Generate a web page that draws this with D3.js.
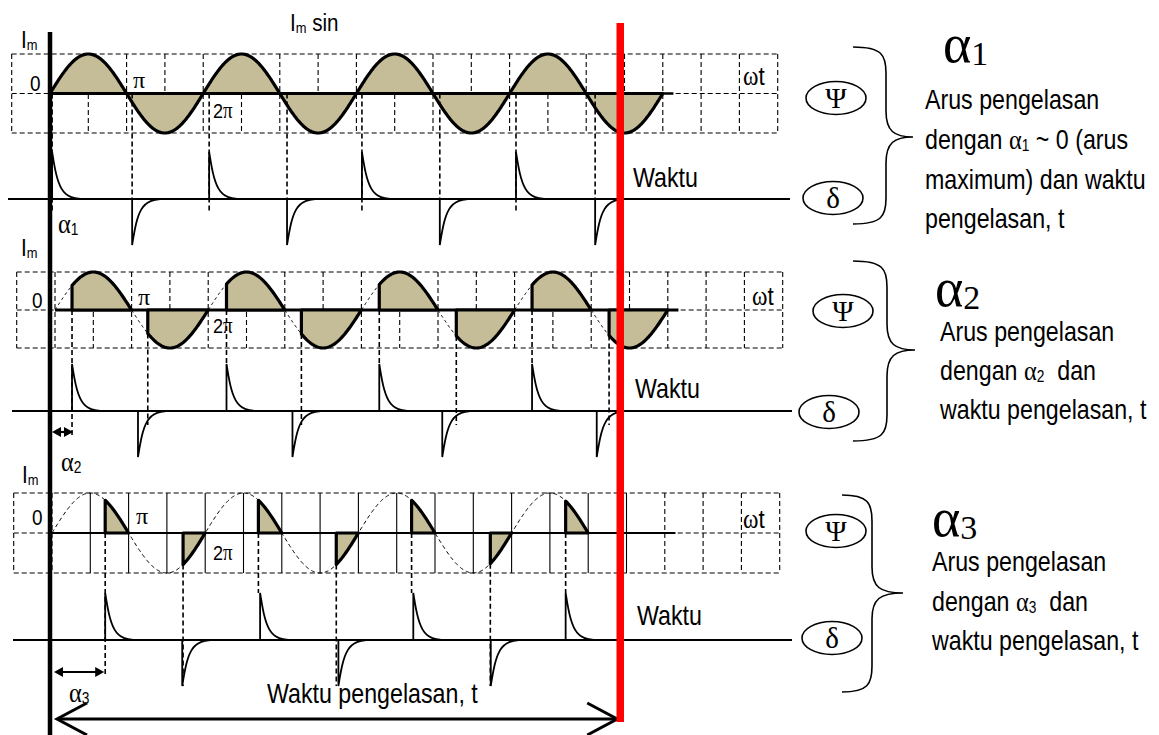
<!DOCTYPE html>
<html>
<head>
<meta charset="utf-8">
<script src="https://cdn.jsdelivr.net/npm/d3@7"></script>
<style>
body { margin: 0; background: #fff; }
text { font-family: "Liberation Sans", Arial, sans-serif; fill: #000; white-space: pre; }
.serif { font-family: "Liberation Serif", "Times New Roman", serif; }
</style>
</head>
<body>
<script>
const W = 1159, H = 735

// firing angle of each conducting half wave (degrees of wt)
const fireDeg1 = [0, 180, 360, 540, 720, 900, 1080, 1260]   // alpha1 ~ 0
const fireDeg2 = [40, 218, 403, 579, 762, 943, 1121, 1302]
const fireDeg3 = [125, 308, 485, 668, 845, 1030, 1207]
// trigger pulses (degrees of wt)
const posPulseDeg1 = [5, 374, 733, 1095]
const negPulseDeg1 = [193, 557, 916, 1281]
const posPulseDeg2 = [40, 403, 762, 1121]
const negPulseDeg2 = [195, 558, 910, 1273]
const posPulseDeg3 = [125, 489, 849, 1207]
const negPulseDeg3 = [306, 673, 1031]
// pulse decay: [deg after trigger, fraction of peak]
const pulseShape = [[0, 1], [4, 0.78], [9, 0.55], [15, 0.36], [22, 0.22], [32, 0.11], [45, 0.04], [66, 0]]
const gridStep = 90
const gridFrom = -90, gridTo = 1710
const weldEndDeg = 1340

const descLines = [
  [[['Arus pengelasan']], [['dengan '], ['α', 'sym'], ['1', 'sub'], [' ~ 0 (arus']], [['maximum) dan waktu']], [['pengelasan, t']]],
  [[['Arus pengelasan']], [['dengan '], ['α', 'sym'], ['2', 'sub'], ['  dan']], [['waktu pengelasan, t']]],
  [[['Arus pengelasan']], [['dengan '], ['α', 'sym'], ['3', 'sub'], ['  dan']], [['waktu pengelasan, t']]]
]
const alphaDigits = ['1', '2', '3']

const panels = [
  { fire: fireDeg1, pos: posPulseDeg1, neg: negPulseDeg1 },
  { fire: fireDeg2, pos: posPulseDeg2, neg: negPulseDeg2 },
  { fire: fireDeg3, pos: posPulseDeg3, neg: negPulseDeg3 }
]

const layout = [
  { x0: 50, top: 54, zero: 94, bot: 133, base: 199, zeroW: 2.5, wave: 'full', guide: 'pulse',
    zeroLbl: [30, 91], pi: [133, 88], pi2: [213, 118], wt: [743, 85], waktu: [633, 187], im: [21, 48],
    psi: [836, 98], delta: [833, 198], brace: [853, 886, 913, 47, 137, 224], big: [943, 62], textX: 925, lines: [109, 149, 189, 228],
    baseFrom: 8, baseTo: 790 },
  { x0: 55, top: 272, zero: 310, bot: 348, base: 411, zeroW: 3, wave: 'pre', guide: 'fire', firstEnd: 435,
    zeroLbl: [32, 308], pi: [138, 305], pi2: [213, 333], wt: [752, 305], waktu: [635, 398], im: [21, 256],
    psi: [843, 311], delta: [829, 412], brace: [853, 887, 915, 261, 350, 441], big: [935, 306], textX: 940, lines: [341, 380, 419],
    baseFrom: 12, baseTo: 792 },
  { x0: 52, top: 493, zero: 533, bot: 573, base: 640, zeroW: 2, wave: 'dashed', guide: 'fire', firstEnd: 677, solidCols: [90, 1350],
    zeroLbl: [32, 525], pi: [136, 524], pi2: [213, 560], wt: [743, 528], waktu: [637, 625], im: [22, 483],
    psi: [836, 531], delta: [832, 638], brace: [842, 872, 903, 495, 593, 692], big: [932, 536], textX: 932, lines: [571, 611, 650],
    baseFrom: 13, baseTo: 792 }
]

const pulseUp = 47, pulseDown = 46
const narrow = 0.86
const svg = d3.select('body').append('svg').attr('width', W).attr('height', H)

function sinePts(a, b) {
  const pts = []
  for (let d = a; d < b; d += 2) pts.push([d, Math.sin(d * Math.PI / 180)])
  pts.push([b, Math.sin(b * Math.PI / 180)])
  return pts
}

// narrow sans text (Arial Narrow look) with optional serif symbols and subscripts
function rich(x, y, segs, size, subSize) {
  const t = svg.append('text').attr('transform', `translate(${x},${y}) scale(${narrow},1)`).attr('font-size', size)
  let shift = 0
  segs.forEach(([s, k]) => {
    const sp = t.append('tspan').text(s)
    const want = k === 'sub' ? 2 : 0
    if (want !== shift) { sp.attr('dy', want - shift); shift = want }
    if (k === 'sub') sp.attr('font-size', subSize || size * 0.58)
    if (k === 'sym') sp.attr('class', 'serif').attr('font-size', size * 1.05)
  })
  return t
}

function brace(xl, xm, xt, y0, yt, y1) {
  const r = 26
  return `M${xl},${y0} C${xm - 4},${y0} ${xm},${y0 + 8} ${xm},${y0 + r}` +
    ` L${xm},${yt - r} C${xm},${yt - 6} ${xm + 8},${yt} ${xt},${yt}` +
    ` C${xm + 8},${yt} ${xm},${yt + 6} ${xm},${yt + r}` +
    ` L${xm},${y1 - r} C${xm},${y1 - 8} ${xm - 4},${y1} ${xl},${y1}`
}

function dblArrow(x1, x2, y) {
  const h = 8
  svg.append('line').attr('x1', x1 + h).attr('x2', x2 - h).attr('y1', y).attr('y2', y)
    .attr('stroke', '#000').attr('stroke-width', 2.2)
  svg.append('path').attr('d', `M${x1},${y}L${x1 + h + 1},${y - 5}L${x1 + h + 1},${y + 5}Z`).attr('fill', '#000')
  svg.append('path').attr('d', `M${x2},${y}L${x2 - h - 1},${y - 5}L${x2 - h - 1},${y + 5}Z`).attr('fill', '#000')
}

panels.forEach((p, i) => {
  const L = layout[i]
  const x = d3.scaleLinear().domain([0, 180]).range([L.x0, L.x0 + 76.6])
  const y = d3.scaleLinear().domain([-1, 1]).range([L.bot, L.top])
  const g = svg.append('g')

  // dashed grid
  const cols = d3.range(gridFrom, gridTo + 1, gridStep)
  g.selectAll('.col').data(cols).enter().append('line')
    .attr('x1', d => x(d)).attr('x2', d => x(d)).attr('y1', L.top).attr('y2', L.bot)
    .attr('stroke', '#000').attr('stroke-width', 1.1)
    .attr('stroke-dasharray', d => (L.solidCols && d >= L.solidCols[0] && d <= L.solidCols[1]) ? null : '5,3')
  g.selectAll('.row').data([1, 0, -1]).enter().append('line')
    .attr('x1', x(gridFrom)).attr('x2', x(gridTo)).attr('y1', d => y(d)).attr('y2', d => y(d))
    .attr('stroke', '#000').attr('stroke-width', 1.1).attr('stroke-dasharray', '5,3')

  const line = d3.line().x(d => x(d[0])).y(d => y(d[1]))

  // thin dashed sine where the current is not flowing
  if (L.wave === 'dashed') {
    g.append('path').attr('d', line(sinePts(0, p.fire.length * 180)))
      .attr('fill', 'none').attr('stroke', '#000').attr('stroke-width', 1).attr('stroke-dasharray', '4,3')
  }
  if (L.wave === 'pre') {
    p.fire.forEach((f, k) => {
      g.append('path').attr('d', line(sinePts(k * 180, f)))
        .attr('fill', 'none').attr('stroke', '#000').attr('stroke-width', 1).attr('stroke-dasharray', '3,3')
    })
  }

  // solid zero line
  g.append('line').attr('x1', x(0)).attr('x2', x(1465)).attr('y1', y(0)).attr('y2', y(0))
    .attr('stroke', '#000').attr('stroke-width', L.zeroW)

  // conducting parts of the wave
  p.fire.forEach((f, k) => {
    const end = (k + 1) * 180
    const pts = [[f, 0]].concat(sinePts(f, end)).concat([[end, 0]])
    g.append('path').attr('d', line(pts) + 'Z')
      .attr('fill', '#c4bd98').attr('stroke', '#000').attr('stroke-width', 3.2)
      .attr('stroke-linejoin', 'round')
  })

  // guides from the wave to the pulses
  const guides = []
  if (L.guide === 'pulse') {
    p.pos.forEach(d => guides.push({ d, y1: y(0), y2: L.base + 13 }))
    p.neg.forEach(d => guides.push({ d, y1: y(0), y2: L.base }))
  } else {
    p.fire.forEach((f, k) => {
      if (k % 2 === 0) guides.push({ d: f, y1: y(0), y2: k === 0 ? L.firstEnd : L.base - pulseUp })
      else guides.push({ d: f, y1: y(Math.sin(f * Math.PI / 180)), y2: L.base + (i === 1 ? 14 : pulseDown) })
    })
  }
  g.selectAll('.guide').data(guides).enter().append('line')
    .attr('x1', d => x(d.d)).attr('x2', d => x(d.d)).attr('y1', d => d.y1).attr('y2', d => d.y2)
    .attr('stroke', '#000').attr('stroke-width', 1.6).attr('stroke-dasharray', '5,3')

  // pulse base line
  g.append('line').attr('x1', L.baseFrom).attr('x2', L.baseTo).attr('y1', L.base).attr('y2', L.base)
    .attr('stroke', '#000').attr('stroke-width', 1.8)

  // trigger pulses
  const pu = d3.scaleLinear().domain([-1, 0, 1]).range([L.base + pulseDown, L.base, L.base - pulseUp])
  function pulse(d0, sign) {
    const ln = d3.line().curve(d3.curveMonotoneX).x(d => x(d0 + d[0])).y(d => pu(sign * d[1]))
    return `M${x(d0)},${L.base}L` + ln(pulseShape).slice(1)
  }
  p.pos.forEach(d => g.append('path').attr('d', pulse(d, 1)).attr('fill', 'none').attr('stroke', '#000').attr('stroke-width', 1.8))
  p.neg.forEach(d => g.append('path').attr('d', pulse(d, -1)).attr('fill', 'none').attr('stroke', '#000').attr('stroke-width', 1.8))

  // labels on the chart
  rich(L.zeroLbl[0], L.zeroLbl[1], [['0']], 22)
  svg.append('text').attr('class', 'serif').attr('x', L.pi[0]).attr('y', L.pi[1]).attr('font-size', 24).text('π')
  rich(L.pi2[0], L.pi2[1], [['2'], ['π', 'sym']], 21)
  rich(L.wt[0], L.wt[1], [['ω', 'sym'], ['t']], 26)
  rich(L.waktu[0], L.waktu[1], [['Waktu']], 27)
  rich(L.im[0], L.im[1], [['I'], ['m', 'sub']], 24, 15)

  // right-hand side: Psi / delta, brace and description
  ;[[L.psi, 'Ψ'], [L.delta, 'δ']].forEach(([c, s]) => {
    svg.append('ellipse').attr('cx', c[0]).attr('cy', c[1]).attr('rx', 30).attr('ry', 16.5)
      .attr('fill', 'none').attr('stroke', '#000').attr('stroke-width', 1.6)
    svg.append('text').attr('class', 'serif').attr('x', c[0]).attr('y', c[1] + 10).attr('font-size', 29)
      .attr('text-anchor', 'middle').text(s)
  })
  svg.append('path').attr('d', brace(...L.brace)).attr('fill', 'none').attr('stroke', '#000').attr('stroke-width', 1.6)
  const big = svg.append('text').attr('class', 'serif').attr('x', L.big[0]).attr('y', L.big[1]).attr('font-size', 54)
  big.append('tspan').text('α')
  big.append('tspan').attr('font-size', 34).attr('dy', 3).text(alphaDigits[i])
  descLines[i].forEach((segs, k) => rich(L.textX, L.lines[k], segs, 27, 16))
})

// left labels for firing angles
rich(58, 233, [['α', 'sym'], ['1', 'sub']], 27, 16)
rich(61, 471, [['α', 'sym'], ['2', 'sub']], 27, 16)
rich(69, 702, [['α', 'sym'], ['3', 'sub']], 27, 16)
dblArrow(52, layout[1].x0 + 76.6 / 180 * fireDeg2[0] + 1, 432)
dblArrow(54, layout[2].x0 + 76.6 / 180 * fireDeg3[0] - 1, 672)

// top label
rich(290, 31, [['I'], ['m', 'sub'], [' sin']], 24, 15)

// welding time arrow and red end line
const xw = d3.scaleLinear().domain([0, 180]).range([layout[0].x0, layout[0].x0 + 76.6])
const ax1 = 57, ax2 = xw(weldEndDeg) - 3, ay = 719
svg.append('line').attr('x1', ax1).attr('x2', ax2).attr('y1', ay).attr('y2', ay).attr('stroke', '#000').attr('stroke-width', 3)
svg.append('path').attr('d', `M${ax1 + 30},${ay - 16}L${ax1},${ay}L${ax1 + 30},${ay + 16}`).attr('fill', 'none').attr('stroke', '#000').attr('stroke-width', 3)
svg.append('path').attr('d', `M${ax2 - 30},${ay - 16}L${ax2},${ay}L${ax2 - 30},${ay + 16}`).attr('fill', 'none').attr('stroke', '#000').attr('stroke-width', 3)
rich(267, 703, [['Waktu pengelasan, t']], 27)

// vertical axis
svg.append('line').attr('x1', 50).attr('x2', 50).attr('y1', 32).attr('y2', H).attr('stroke', '#000').attr('stroke-width', 4.5)
svg.append('line').attr('x1', xw(weldEndDeg)).attr('x2', xw(weldEndDeg)).attr('y1', 23).attr('y2', 722)
  .attr('stroke', '#ff0000').attr('stroke-width', 7.5)
</script>
</body>
</html>
